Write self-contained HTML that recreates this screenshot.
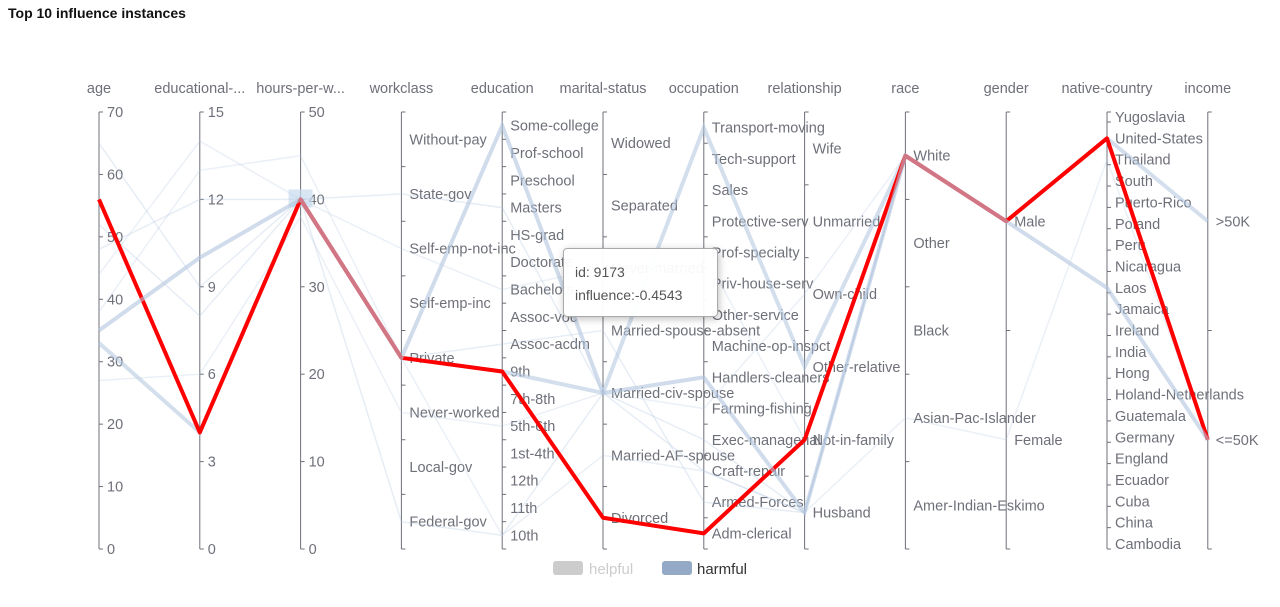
<!DOCTYPE html>
<html><head><meta charset="utf-8">
<style>
body{margin:0;background:#fff;font-family:"Liberation Sans",sans-serif;}
#wrap{position:relative;width:1280px;height:607px;overflow:hidden;}
#title{position:absolute;left:8px;top:5px;font-size:14px;font-weight:bold;color:#111;}
svg text{font-family:"Liberation Sans",sans-serif;font-size:14.5px;fill:#6e7079;}
#tip{position:absolute;left:563px;top:248px;width:155px;height:69px;background:rgba(255,255,255,0.95);border:1px solid #aaa;border-radius:4px;box-shadow:1px 2px 8px rgba(0,0,0,0.25);font-size:14px;color:#555;box-sizing:border-box;padding:12px 0 0 11px;line-height:23px;}
</style></head>
<body><div id="wrap">
<div id="title">Top 10 influence instances</div>
<svg id="svg" width="1280" height="607"></svg>
<div id="tip">id: 9173<br>influence:-0.4543</div>
</div>
<script>
const dims = ["age","educational-...","hours-per-w...","workclass","education","marital-status","occupation","relationship","race","gender","native-country","income"];
const numMax = {0:70,1:15,2:50};
const numTicks = {0:[0,10,20,30,40,50,60,70],1:[0,3,6,9,12,15],2:[0,10,20,30,40,50]};
const workclassCats = ["Federal-gov","Local-gov","Never-worked","Private","Self-emp-inc","Self-emp-not-inc","State-gov","Without-pay"];
const educationCats = ["10th","11th","12th","1st-4th","5th-6th","7th-8th","9th","Assoc-acdm","Assoc-voc","Bachelors","Doctorate","HS-grad","Masters","Preschool","Prof-school","Some-college"];
const maritalCats = ["Divorced","Married-AF-spouse","Married-civ-spouse","Married-spouse-absent","Never-married","Separated","Widowed"];
const occupationCats = ["Adm-clerical","Armed-Forces","Craft-repair","Exec-managerial","Farming-fishing","Handlers-cleaners","Machine-op-inspct","Other-service","Priv-house-serv","Prof-specialty","Protective-serv","Sales","Tech-support","Transport-moving"];
const relationshipCats = ["Husband","Not-in-family","Other-relative","Own-child","Unmarried","Wife"];
const raceCats = ["Amer-Indian-Eskimo","Asian-Pac-Islander","Black","Other","White"];
const genderCats = ["Female","Male"];
const countryCats = ["Cambodia","China","Cuba","Ecuador","England","Germany","Guatemala","Holand-Netherlands","Hong","India","Ireland","Jamaica","Laos","Nicaragua","Peru","Poland","Puerto-Rico","South","Thailand","United-States","Yugoslavia"];
const incomeCats = ["<=50K",">50K"];
const helpfulRow = [56,4,40,"Private","9th","Divorced","Adm-clerical","Not-in-family","White","Male","United-States","<=50K"];
const harmfulRows = [
 [35,10,40,"Private","Some-college","Married-civ-spouse","Handlers-cleaners","Husband","White","Male","Laos","<=50K"],
 [33,4,40,"Private","9th","Married-civ-spouse","Transport-moving","Other-relative","White","Male","United-States",">50K"],
 [65,9,40,"State-gov","Masters","Married-civ-spouse","Exec-managerial","Husband","White","Male","United-States","<=50K"],
 [44,14,40,"Self-emp-not-inc","Bachelors","Never-married","Prof-specialty","Not-in-family","White","Male","United-States","<=50K"],
 [38,13,45,"Private","10th","Married-AF-spouse","Craft-repair","Husband","Asian-Pac-Islander","Female","Thailand","<=50K"],
 [52,8,40,"Private","Assoc-acdm","Married-spouse-absent","Armed-Forces","Husband","White","Male","United-States","<=50K"],
 [27,6,38,"Never-worked","5th-6th","Married-civ-spouse","Farming-fishing","Own-child","White","Male","United-States","<=50K"],
 [48,12,40,"Federal-gov","10th","Married-civ-spouse","Craft-repair","Husband","White","Male","United-States","<=50K"]
];
const harmfulWidths = [4,4,1.5,1.5,1.5,1.5,1.5,1.5];
const harmfulOpac = [0.6,0.55,0.3,0.25,0.25,0.3,0.25,0.3];
const harmfulOnTop = [true,false,false,false,false,false,false,false];
const catLists = {3:workclassCats,4:educationCats,5:maritalCats,6:occupationCats,7:relationshipCats,8:raceCats,9:genderCats,10:countryCats,11:incomeCats};
const noGap = {10:true};

const svg=document.getElementById('svg'), NS="http://www.w3.org/2000/svg";
const X0=99, XS=100.8, TOP=112, BOT=549, PAD=5;
function ax(i){return X0+i*XS;}
function yv(i,v){
  if(numMax[i]!==undefined) return BOT-(v/numMax[i])*(BOT-TOP);
  const c=catLists[i];
  if(noGap[i]){ const st=(BOT-TOP-2*PAD)/(c.length-1); return BOT-PAD-c.indexOf(v)*st; }
  const bw=(BOT-TOP)/c.length; return BOT-(c.indexOf(v)+0.5)*bw;
}
function mk(t,a,p){const e=document.createElementNS(NS,t);for(const k in a)e.setAttribute(k,a[k]);(p||svg).appendChild(e);return e;}

dims.forEach((d,i)=>{
  const g=mk('g',{});
  
  
  const x=ax(i);
  const t=mk('text',{x:x,y:93,'text-anchor':'middle'},g);t.textContent=d;
  
  
  mk('line',{x1:x,y1:TOP,x2:x,y2:BOT,stroke:'#6e7079','stroke-width':1},g);
  if(numMax[i]!==undefined){
    numTicks[i].forEach(v=>{const y=yv(i,v);
      mk('line',{x1:x,y1:y,x2:x+4,y2:y,stroke:'#6e7079'},g);
      const l=mk('text',{x:x+8,y:y+5},g);l.textContent=v;
      
      });
  } else {
    const c=catLists[i];
    if(noGap[i]){
      mk('line',{x1:x,y1:TOP,x2:x+4,y2:TOP,stroke:'#6e7079'},g);
      mk('line',{x1:x,y1:BOT,x2:x+4,y2:BOT,stroke:'#6e7079'},g);
      c.forEach(v=>{const y=yv(i,v);mk('line',{x1:x,y1:y+5,x2:x+4,y2:y+5,stroke:'#6e7079'},g);});
    } else {
      const bw=(BOT-TOP)/c.length;
      for(let k=0;k<=c.length;k++){const y=BOT-k*bw;mk('line',{x1:x,y1:y,x2:x+4,y2:y,stroke:'#6e7079'},g);}
    }
    c.forEach(v=>{const l=mk('text',{x:x+8,y:yv(i,v)+5},g);l.textContent=v;
      
      });
  }
});
function pts(r){return r.map((v,i)=>ax(i)+','+yv(i,v)).join(' ');}
mk('rect',{x:ax(2)-12,y:yv(2,40)-10,width:24,height:18,fill:'#c8dcf0',opacity:0.7});
function drawHarm(k){
  const p=mk('polyline',{points:pts(harmfulRows[k]),fill:'none',stroke:'#b0c4de','stroke-width':harmfulWidths[k],'stroke-opacity':harmfulOpac[k]});
  
  
}
harmfulRows.forEach((r,k)=>{ if(!harmfulOnTop[k]) drawHarm(k); });
const red=mk('polyline',{points:pts(helpfulRow),fill:'none',stroke:'#ff0000','stroke-width':4,'stroke-linejoin':'round'});


harmfulRows.forEach((r,k)=>{ if(harmfulOnTop[k]) drawHarm(k); });

const lg=mk('g',{});


const l1=mk('g',{},lg);


mk('rect',{x:553,y:561,width:30,height:14,rx:3,fill:'#cccccc'},l1);
const t1=mk('text',{x:589,y:574,style:'fill:#ccc;font-size:15px'},l1);t1.textContent='helpful';
const l2=mk('g',{},lg);


mk('rect',{x:662,y:561,width:30,height:14,rx:3,fill:'#93a9c6'},l2);
const t2=mk('text',{x:697,y:574,style:'fill:#333;font-size:15px'},l2);t2.textContent='harmful';
</script></body></html>
